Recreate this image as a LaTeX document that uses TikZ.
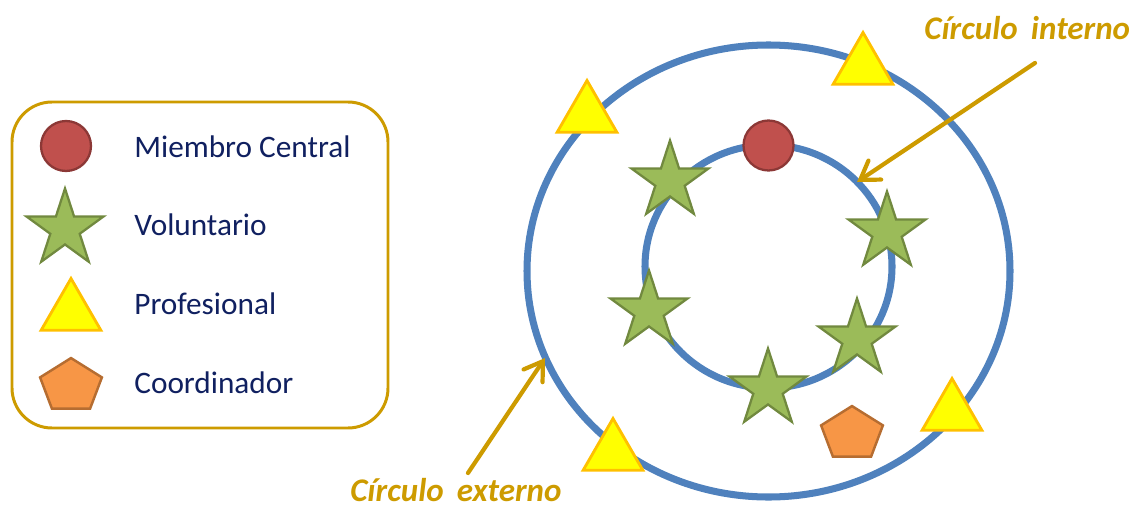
\documentclass[tikz,border=0pt]{standalone}
\usepackage{fontspec}
\setmainfont{Carlito}
\usepackage{tikz}
\usetikzlibrary{shapes.geometric}
\usetikzlibrary{arrows.meta}

\definecolor{ringblue}{RGB}{79,129,189}
\definecolor{redfill}{RGB}{192,80,77}
\definecolor{redline}{RGB}{140,56,54}
\definecolor{greenfill}{RGB}{155,187,89}
\definecolor{greenline}{RGB}{113,137,63}
\definecolor{yellowfill}{RGB}{255,255,0}
\definecolor{yellowline}{RGB}{255,192,0}
\definecolor{orangefill}{RGB}{247,150,70}
\definecolor{orangeline}{RGB}{182,109,49}
\definecolor{gold}{RGB}{205,155,0}
\definecolor{navy}{RGB}{16,32,96}

\tikzset{
  ring/.style={draw=ringblue, line width=4pt},
  central/.style={circle, fill=redfill, draw=redline, line width=1.3pt, minimum size=1.0cm, inner sep=0},
  volunteer/.style={star, star points=5, star point ratio=2.618, fill=greenfill, draw=greenline, line width=1.3pt, minimum size=1.62cm, inner sep=0},
  professional/.style={regular polygon, regular polygon sides=3, fill=yellowfill, draw=yellowline, line width=1.6pt, minimum size=1.38cm, inner sep=0},
  coordinator/.style={regular polygon, regular polygon sides=5, fill=orangefill, draw=orangeline, line width=1.4pt, minimum size=1.3cm, inner sep=0, yscale=0.86},
  legendtext/.style={anchor=base west, text=navy, inner sep=0},
  ringlabel/.style={anchor=base west, text=gold, inner sep=0, font=\fontsize{18.8}{21}\selectfont\bfseries\itshape},
  pointer/.style={draw=gold, line width=2.4pt, line cap=round, -{Straight Barb[length=10pt, width=13pt, line cap=round]}}
}

\begin{document}
\begin{tikzpicture}[x=0.02cm, y=-0.02cm]\fontsize{17.8}{21}\selectfont

			\useasboundingbox (0,0) rectangle (1136,507);

			% legend
			\draw[gold, line width=1.7pt, rounded corners=0.8cm] (12,102) rectangle (388,428);

			\node[central] (legCentral) at (66,146) {};
			\node[volunteer] (legVolunteer) at (65,229) {};
			\node[professional] (legProfessional) at (71,313) {};
			\node[coordinator] (legCoordinator) at (71,386) {};

			\node[legendtext] (txtCentral) at (134,157) {Miembro Central};
			\node[legendtext] (txtVolunteer) at (134,235) {Voluntario};
			\node[legendtext] (txtProfessional) at (134,314) {Profesional};
			\node[legendtext] (txtCoordinator) at (134,393) {Coordinador};

			% circles
			\draw[ring] (768.5,271) ellipse [x radius=241.5, y radius=226];
			\draw[ring] (768.5,266.5) ellipse [x radius=123.5, y radius=121.5];

			\node[central] (center) at (768.5,145.5) {};

			\node[volunteer] (vol1) at (670,181) {};
			\node[volunteer] (vol2) at (887,232) {};
			\node[volunteer] (vol3) at (649,311) {};
			\node[volunteer] (vol4) at (857,339) {};
			\node[volunteer] (vol5) at (768,389) {};

			\node[professional] (pro1) at (863,67) {};
			\node[professional] (pro2) at (587,115) {};
			\node[professional] (pro3) at (613,453) {};
			\node[professional] (pro4) at (952,413) {};

			\node[coordinator] (coord) at (852,434) {};

			% labels
			\node[ringlabel] (inLabel) at (924,39) {Círculo\hspace{0.4em}interno};
			\node[ringlabel] (outLabel) at (350,501) {Círculo\hspace{0.4em}externo};

			\coordinate (inTail) at (1035,63);
			\coordinate (inTip) at (857,182);
			\coordinate (outTail) at (468,473);
			\coordinate (outTip) at (545,358);

			\draw[pointer] (inTail) -- (inTip);
			\draw[pointer] (outTail) -- (outTip);
		\end{tikzpicture}
\end{document}
